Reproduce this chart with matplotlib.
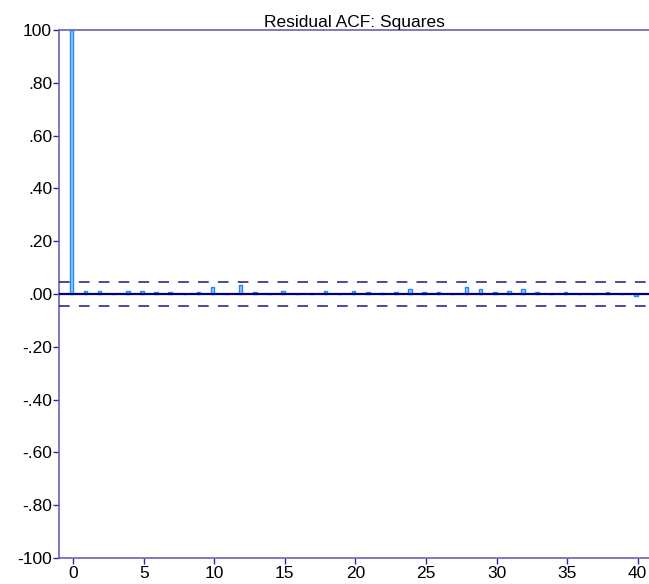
import numpy as np
import matplotlib
matplotlib.use('Agg')
import matplotlib.pyplot as plt

# residual ACF of squared residuals, lags 0..40
lags = np.arange(0, 41)
acf = [1.000, 0.012, 0.012, 0.000, 0.012, 0.012, 0.006, 0.006, 0.000, 0.006,
       0.026, 0.000, 0.034, 0.006, 0.000, 0.012, 0.000, 0.000, 0.012, 0.000,
       0.012, 0.006, 0.005, 0.006, 0.019, 0.006, 0.006, 0.000, 0.026, 0.019,
       0.006, 0.012, 0.019, 0.006, 0.000, 0.006, 0.000, 0.000, 0.006, 0.000,
       -0.006]
conf_band = 0.047

ytick_vals = [1.0, 0.8, 0.6, 0.4, 0.2, 0.0, -0.2, -0.4, -0.6, -0.8, -1.0]
ytick_labs = ['100', '.80', '.60', '.40', '.20', '.00', '-.20', '-.40', '-.60', '-.80', '-100']
xtick_vals = [0, 5, 10, 15, 20, 25, 30, 35, 40]

plt.rcParams['font.family'] = ['Liberation Sans', 'DejaVu Sans']

fig = plt.figure(figsize=(6.49, 5.84), dpi=100)
ax = fig.add_axes([0.0909, 0.0445, 0.9091, 0.9041])

ax.bar(lags, acf, width=-0.25, align='edge', color='#96ccff',
       edgecolor='#2a86f0', linewidth=1.0, zorder=2)

ax.axhline(0, color='#000080', linewidth=1.6, zorder=3)
ax.axhline(conf_band, color='#1a1a78', linewidth=1.1, linestyle=(0, (7, 6)), zorder=3)
ax.axhline(-conf_band, color='#1a1a78', linewidth=1.1, linestyle=(0, (7, 6)), zorder=3)

ax.set_xlim(-1.0, 40.8)
ax.set_ylim(-1.0, 1.0)
ax.set_yticks(ytick_vals)
ax.set_yticklabels(ytick_labs)
ax.set_xticks(xtick_vals)

for s in ['left', 'top', 'bottom']:
    ax.spines[s].set_color('#6464b4')
    ax.spines[s].set_linewidth(1.2)
ax.spines['right'].set_visible(False)

ax.tick_params(axis='both', direction='out', length=4, width=1.0,
               color='#2a2a90', labelsize=12.5, pad=1)
ax.tick_params(axis='x', pad=2)

ax.set_title('Residual ACF: Squares', fontsize=12.5, pad=1)

fig.savefig('out.png', dpi=100)
